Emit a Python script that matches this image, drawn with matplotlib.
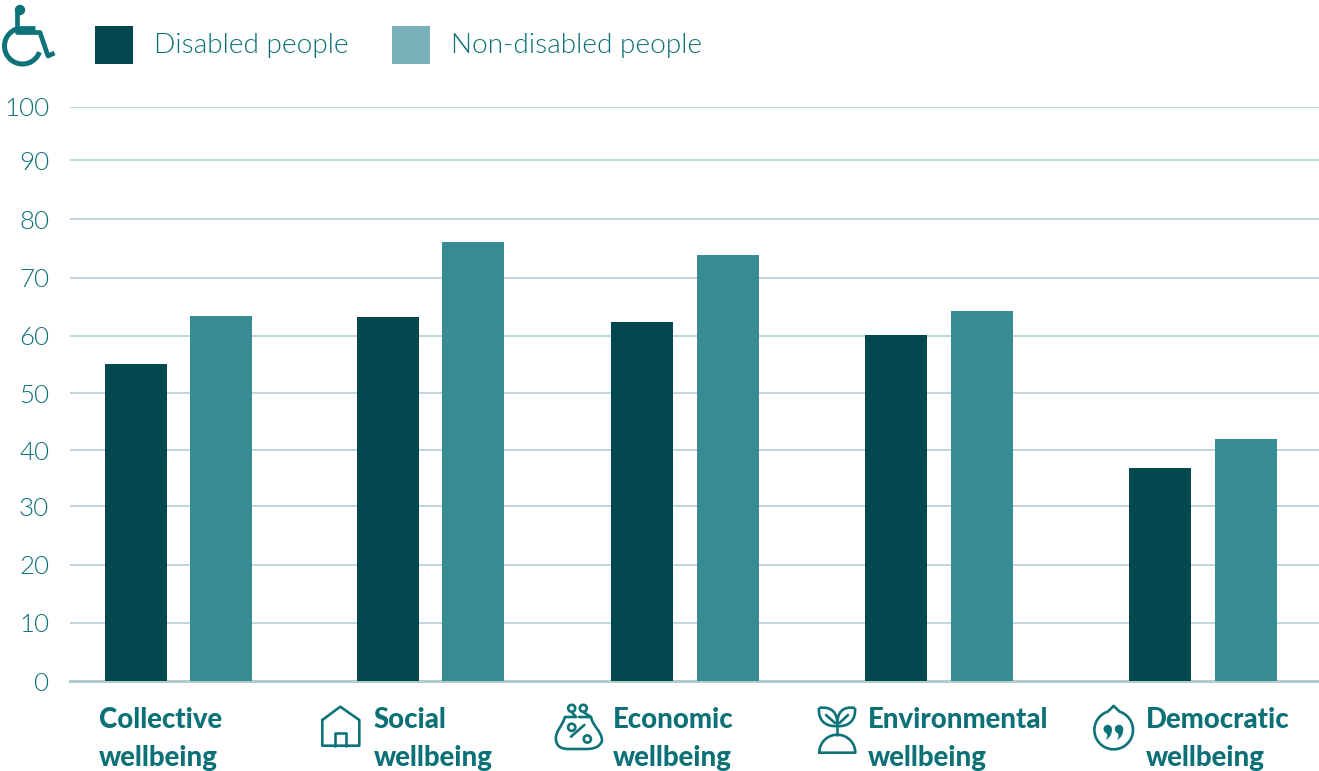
import numpy as np
import matplotlib
matplotlib.use("Agg")
import matplotlib.pyplot as plt
from matplotlib import font_manager as fm
from matplotlib.patches import Rectangle, Circle, PathPatch
from matplotlib.path import Path

# Wellbeing scores by domain
categories = ["Collective\nwellbeing", "Social\nwellbeing", "Economic\nwellbeing",
              "Environmental\nwellbeing", "Democratic\nwellbeing"]
disabled = [55.2, 63.4, 62.5, 60.3, 37.1]
non_disabled = [63.5, 76.4, 74.1, 64.4, 42.1]
tick_labels = ["0", "10", "20", "30", "40", "50", "60", "70", "80", "90", "100"]
series_names = ["Disabled people", "Non-disabled people"]

# Layout, in figure pixels
W, H = 1319, 771
AX_LEFT, AX_BASE, AX_TOP = 70, 681.5, 106.7
left_bar_x = [105, 357, 611, 865, 1129]
right_bar_x = [190, 442, 697, 951, 1215]
BAR_W = 61.6
label_x = [99, 374, 613, 868, 1146]
grid_px = [682, 623, 565.3, 506.7, 450.7, 393.3, 335.7, 278, 219.3, 160.3, 106.7]

TEXT = "#0C7077"
ICON = "#0E7379"
DARK = "#03474F"
MID = "#368C92"
LIGHT = "#78B1B8"
GRID = "#B4D0D4"
BASE = "#AECBCD"


def lato(style):
    """Pick a Lato cut by file name, since weight matching can land on Hairline."""
    for f in fm.fontManager.ttflist:
        if f.fname.endswith(f"Lato-{style}.ttf"):
            return fm.FontProperties(fname=f.fname)
    return fm.FontProperties(family="Lato")


LIGHT_FONT = lato("Light")
BOLD_FONT = lato("Heavy")

plt.rcParams["font.family"] = "Lato"
fig = plt.figure(figsize=(W / 100, H / 100), dpi=100, facecolor="white")
ax = fig.add_axes([AX_LEFT / W, 1 - AX_BASE / H, 1 - AX_LEFT / W, (AX_BASE - AX_TOP) / H])
ax.set_xlim(AX_LEFT, W)
ax.set_ylim(0, 100)
px_per_unit = (AX_BASE - AX_TOP) / 100

ax.bar(left_bar_x, disabled, width=BAR_W, align="edge", color=DARK, zorder=3)
ax.bar(right_bar_x, non_disabled, width=BAR_W, align="edge", color=MID, zorder=3)

ax.set_yticks([(AX_BASE - g) / px_per_unit for g in grid_px], tick_labels)
ax.tick_params(axis="y", length=0, pad=15, labelcolor=TEXT)
for lab in ax.get_yticklabels():
    lab.set_fontproperties(LIGHT_FONT)
    lab.set_fontsize(18.6)
ax.set_xticks([])
ax.grid(axis="y", color=GRID, lw=1.2, zorder=1)
for spine in ax.spines.values():
    spine.set_visible(False)
ax.axhline(0, color=BASE, lw=2.1, zorder=2, clip_on=False)

# Overlay in pixel coordinates for the legend, domain labels and icons
ov = fig.add_axes([0, 0, 1, 1])
ov.set_xlim(0, W)
ov.set_ylim(H, 0)
ov.axis("off")
ov.patch.set_alpha(0)

ov.add_patch(Rectangle((95, 26), 38, 38, color=DARK, lw=0))
ov.add_patch(Rectangle((392, 26), 38, 38, color=LIGHT, lw=0))
ov.text(154, 46, series_names[0], fontproperties=LIGHT_FONT, fontsize=20.2, color=TEXT, va="center")
ov.text(451, 46, series_names[1], fontproperties=LIGHT_FONT, fontsize=20.2, color=TEXT, va="center")

for x, lab in zip(label_x, categories):
    ov.text(x, 739, lab, fontproperties=BOLD_FONT, fontsize=19.8, color=TEXT, va="center",
            linespacing=1.6)


def stroke(ox, oy, xs, ys, lw=1.9, cap="round"):
    ov.plot(np.array(xs) + ox, np.array(ys) + oy, color=ICON, lw=lw,
            solid_capstyle=cap, solid_joinstyle="round")


def ring(ox, oy, cx, cy, r, lw=1.9, fill="none"):
    ov.add_patch(Circle((ox + cx, oy + cy), r, fc=fill, ec=ICON, lw=lw))


def curve(ox, oy, verts, codes, lw=1.9, fill="none"):
    pts = [(x + ox, y + oy) for x, y in verts]
    ov.add_patch(PathPatch(Path(pts, codes), fc=fill, ec=ICON, lw=lw, joinstyle="round"))


M, L, C = Path.MOVETO, Path.LINETO, Path.CURVE4

# Wheelchair symbol
ov.add_patch(Circle((20, 10), 5.2, color=ICON, lw=0))
stroke(0, 0, [17.5, 17.5, 40, 48, 54.5], [10, 32.5, 32.5, 56, 53], lw=3.4, cap="butt")
stroke(0, 0, [17.5, 35], [27.5, 27.5], lw=3.4, cap="butt")
t = np.radians(np.linspace(20, 252, 60))
stroke(0, 0, 22.5 + 18 * np.cos(t), 46 + 18 * np.sin(t), lw=3.6, cap="butt")

# House
stroke(310, 695, [12.3, 30.3, 49.3, 49.3, 12.3, 12.3], [25, 11.7, 25, 50.7, 50.7, 25])
stroke(310, 695, [25.3, 25.3, 35.7, 35.7], [50.7, 37.7, 37.7, 50.7])

# Coin purse with a percent sign
ring(545, 695, 26.7, 13.3, 3.5)
ring(545, 695, 38.3, 13.3, 3.5)
stroke(545, 695, [20, 31, 26.7], [22, 22, 17])
stroke(545, 695, [34, 46, 38.3], [22, 22, 17])
curve(545, 695,
      [(20, 22), (17, 32), (10, 36), (11, 45), (12, 54), (20, 54), (25, 54),
       (40, 54), (45, 54), (54, 54), (57, 46), (57, 36), (48, 32), (46, 22)],
      [M, C, C, C, C, C, C, L, C, C, C, C, C, C])
stroke(545, 695, [26, 39.3], [41.7, 30])
ring(545, 695, 26.7, 32.3, 3.6)
ring(545, 695, 42.3, 44, 3.6)

# Seedling on a mound
t = np.radians(np.linspace(180, 360, 50))
stroke(805, 695, list(32.3 + 18 * np.cos(t)) + [14.3], list(57.7 + 18 * np.sin(t)) + [57.7])
stroke(805, 695, [32.3, 32.3], [31, 40])
curve(805, 695, [(14, 13), (26, 11), (33, 17), (32.3, 31), (20, 32), (13, 25), (14, 13)],
      [M, C, C, C, C, C, C])
curve(805, 695, [(50, 13), (38, 11), (31.6, 17), (32.3, 31), (44, 32), (51, 25), (50, 13)],
      [M, C, C, C, C, C, C])
stroke(805, 695, [21, 30], [20, 28])
stroke(805, 695, [43, 34.5], [20, 28])

# Speech drop with quotation marks
a = np.radians(np.linspace(-72, 252, 80))
drop_x = [33.7] + list(33.7 + 19.3 * np.cos(a)) + [33.7]
drop_y = [11] + list(35 + 19.3 * np.sin(a)) + [11]
stroke(1080, 695, drop_x, drop_y)
for qx in (27.7, 39):
    ov.add_patch(Circle((1080 + qx, 695 + 34), 4.2, color=ICON, lw=0))
    curve(1080, 695, [(qx + 4.2, 34), (qx + 4.5, 39), (qx + 2, 43), (qx - 2, 45),
                      (qx + 0.5, 41), (qx, 38.5), (qx - 3, 37), (qx + 4.2, 34)],
          [M, C, C, C, C, C, L, L], lw=0, fill=ICON)

fig.savefig("out.png", dpi=100, facecolor="white")
